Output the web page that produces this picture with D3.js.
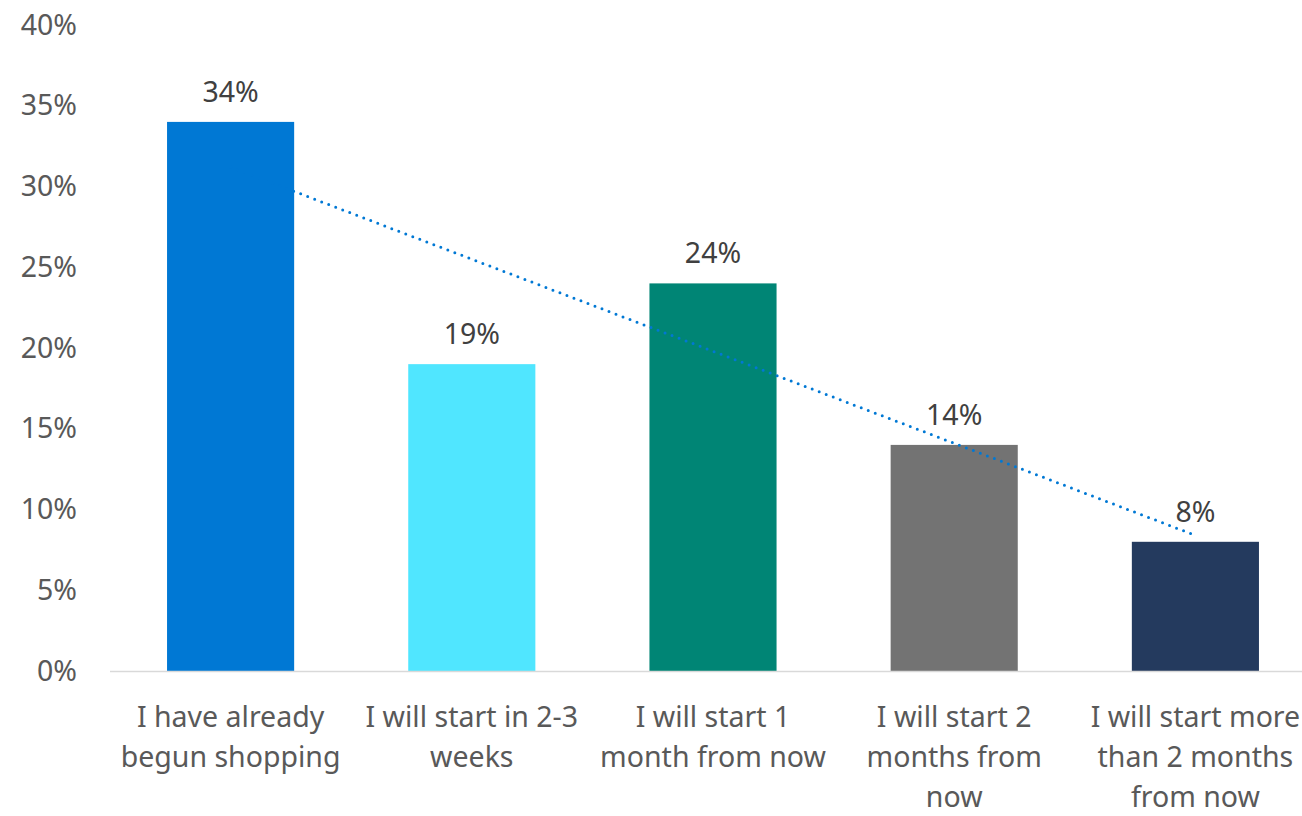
<!DOCTYPE html>
<html><head><meta charset="utf-8">
<script src="https://cdn.jsdelivr.net/npm/d3@7"></script>
<style>
html,body{margin:0;padding:0;background:#fff;}
svg{display:block;}
</style></head>
<body>
<svg id="chart" width="1302" height="816"></svg>
<script>
const categories = [
  ["I have already", "begun shopping"],
  ["I will start in 2-3", "weeks"],
  ["I will start 1", "month from now"],
  ["I will start 2", "months from", "now"],
  ["I will start more", "than 2 months", "from now"]
];
const values = [34, 19, 24, 14, 8];
const colors = ["#0078D4", "#50E6FF", "#008575", "#737373", "#243A5E"];
const yTicks = [0, 5, 10, 15, 20, 25, 30, 35, 40];

(function () {
const svg = d3.select("#chart");
const font = "'Noto Sans', 'Open Sans', sans-serif";
const fs = 28.5;
const pLeft = 110, pRight = 1316, pTop = 25, pBottom = 671;

const x = d3.scaleBand().domain(d3.range(values.length)).range([pLeft, pRight]).paddingInner(0.473).paddingOuter(0.2365);
const y = d3.scaleLinear().domain([0, 40]).range([pBottom, pTop]);

// y labels
const yAxis = d3.axisLeft(y).tickValues(yTicks).tickFormat(d => d + "%").tickSize(0).tickPadding(0);
const ya = svg.append("g").attr("transform", `translate(${77},0)`).call(yAxis);
ya.select(".domain").remove();
ya.selectAll("text").attr("font-family", font).attr("font-size", fs).attr("fill", "#595959");

// bars
svg.append("g").selectAll("rect").data(values).join("rect")
  .attr("x", (d, i) => x(i)).attr("width", x.bandwidth())
  .attr("y", d => y(d)).attr("height", d => y(0) - y(d))
  .attr("fill", (d, i) => colors[i]);

// x axis line
svg.append("line").attr("x1", pLeft).attr("x2", 1302).attr("y1", pBottom + 0.5).attr("y2", pBottom + 0.5)
  .attr("stroke", "#d9d9d9").attr("stroke-width", 1.5);

// value labels
svg.append("g").selectAll("text").data(values).join("text")
  .attr("x", (d, i) => x(i) + x.bandwidth() / 2).attr("y", d => y(d) - 20)
  .attr("text-anchor", "middle").attr("font-family", font).attr("font-size", fs).attr("fill", "#404040")
  .text(d => d + "%");

// linear trendline
const n = values.length;
const mx = d3.mean(d3.range(n)), my = d3.mean(values);
const slope = d3.sum(values, (v, i) => (i - mx) * (v - my)) / d3.sum(d3.range(n), i => (i - mx) * (i - mx));
const icpt = my - slope * mx;
const cx = i => x(i) + x.bandwidth() / 2;
svg.append("line")
  .attr("x1", cx(0)).attr("y1", y(icpt))
  .attr("x2", cx(n - 1)).attr("y2", y(icpt + slope * (n - 1)))
  .attr("stroke", "#0078D4").attr("stroke-width", 3).attr("stroke-linecap", "round")
  .attr("stroke-dasharray", "0 7.5");

// category labels
const cg = svg.append("g").selectAll("text").data(categories).join("text")
  .attr("x", (d, i) => cx(i)).attr("y", 727)
  .attr("text-anchor", "middle").attr("font-family", font).attr("font-size", fs).attr("fill", "#595959");
cg.selectAll("tspan").data(d => d).join("tspan")
  .attr("x", function() { return d3.select(this.parentNode).attr("x"); })
  .attr("dy", (d, i) => i === 0 ? 0 : 40)
  .text(d => d);
})();
</script>
</body></html>
